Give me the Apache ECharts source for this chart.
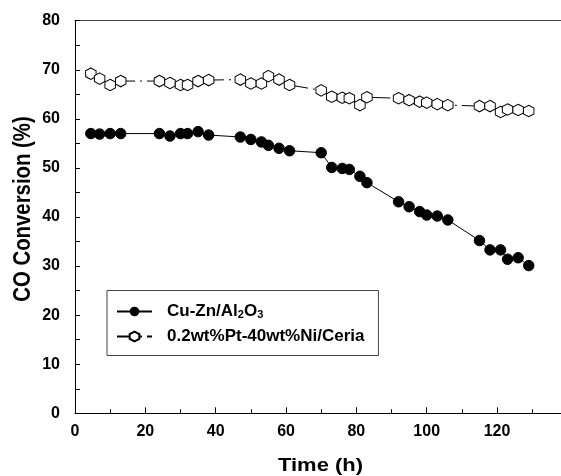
<!DOCTYPE html>
<html>
<head>
<meta charset="utf-8">
<script src="https://cdn.jsdelivr.net/npm/echarts@6/dist/echarts.min.js"></script>
<style>
html,body{margin:0;padding:0;background:#fff;overflow:hidden;}
#chart{width:561px;height:476px;}
</style>
</head>
<body>
<div id="chart"></div>
<script>
var timeH = [4.5, 7, 10, 13, 24, 27, 30, 32, 35, 38, 47, 50, 53, 55, 58, 61, 70, 73, 76, 78, 81, 83, 92, 95, 98, 100, 103, 106, 115, 118, 121, 123, 126, 129];
var cuZn = [57.0, 56.9, 57.0, 57.0, 57.0, 56.5, 57.0, 57.0, 57.4, 56.7, 56.3, 55.8, 55.3, 54.6, 54.0, 53.5, 53.1, 50.1, 49.9, 49.7, 48.3, 47.0, 43.1, 42.1, 41.1, 40.4, 40.2, 39.4, 35.2, 33.3, 33.3, 31.4, 31.7, 30.1];
var ptNi = [69.2, 68.2, 66.9, 67.7, 67.7, 67.3, 66.9, 66.9, 67.7, 67.9, 68.0, 67.2, 67.2, 68.7, 68.0, 66.9, 65.8, 64.5, 64.3, 64.2, 62.8, 64.4, 64.2, 63.8, 63.5, 63.3, 63.0, 62.8, 62.6, 62.6, 61.4, 61.9, 61.8, 61.6];
var seriesNames = ['Cu-Zn/Al2O3', '0.2wt%Pt-40wt%Ni/Ceria'];
var legendLabels = ['Cu-Zn/Al{sub|2}O{sub|3}', '0.2wt%Pt-40wt%Ni/Ceria'];
var xTitle = 'Time (h)';
var yTitle = 'CO Conversion (%)';

function pairs(xs, ys){ return xs.map(function(x,i){ return [x, ys[i]]; }); }

var hex = 'path://M0,-1 L0.866,-0.5 L0.866,0.5 L0,1 L-0.866,0.5 L-0.866,-0.5 Z';
var font = '"Liberation Sans", Arial, sans-serif';

var chart = echarts.init(document.getElementById('chart'), null, {renderer:'canvas'});
chart.setOption({
  animation: false,
  backgroundColor: '#fff',
  grid: {left: 75, top: 20.7, width: 492.4, height: 392.6, outerBoundsMode: 'none', containLabel: false, show: false},
  legend: {
    orient: 'vertical',
    left: 107, top: 290.5,
    padding: [12, 14, 10, 9],
    itemGap: 7,
    itemWidth: 35, itemHeight: 12,
    borderColor: '#444', borderWidth: 1,
    backgroundColor: '#fff',
    data: seriesNames,
    formatter: function(n){ return '{gap|}' + legendLabels[seriesNames.indexOf(n)]; },
    textStyle: {
      fontFamily: font, fontWeight: 'bold', fontSize: 17, color: '#000', lineHeight: 18,
      rich: {
        gap: {width: 10, lineHeight: 18},
        sub: {fontFamily: font, fontWeight: 'bold', fontSize: 11, lineHeight: 11, color: '#000', verticalAlign: 'bottom'}
      }
    }
  },
  graphic: [
    {type: 'text', x: 320.5, y: 466, scaleX: 1.22, z: 10,
     style: {text: xTitle, font: 'bold 18px ' + font, fill: '#000', textAlign: 'center', textVerticalAlign: 'middle'}},
    {type: 'text', x: 23.5, y: 209, rotation: Math.PI / 2, scaleX: 0.885, z: 10,
     style: {text: yTitle, font: 'bold 23px ' + font, fill: '#000', textAlign: 'center', textVerticalAlign: 'middle'}}
  ],
  xAxis: [{
    type: 'value', min: 0, max: 140, interval: 20,
    axisLine: {lineStyle: {color: '#000', width: 1}},
    axisTick: {inside: true, length: 6, lineStyle: {color: '#000'}},
    minorTick: {show: true, splitNumber: 2, length: 4, lineStyle: {color: '#000'}},
    splitLine: {show: false},
    axisLabel: {fontFamily: font, fontWeight: 'bold', fontSize: 16, color: '#000', margin: 10,
      formatter: function(v){ return v <= 120 ? String(v) : ''; }}
  }, {
    type: 'value', min: 0, max: 140, interval: 20, position: 'top',
    axisLine: {show: true, lineStyle: {color: '#444', width: 1}},
    axisTick: {show: false}, minorTick: {show: false},
    axisLabel: {show: false}, splitLine: {show: false}
  }],
  yAxis: {
    type: 'value', min: 0, max: 80, interval: 10,
    axisLine: {show: true, lineStyle: {color: '#000', width: 1}},
    axisTick: {show: true, inside: true, length: 5, lineStyle: {color: '#000'}},
    minorTick: {show: true, splitNumber: 2, length: 5, lineStyle: {color: '#000'}},
    splitLine: {show: false},
    axisLabel: {fontFamily: font, fontWeight: 'bold', fontSize: 16, color: '#000', margin: 15}
  },
  series: [
    {
      name: seriesNames[0], type: 'line', data: pairs(timeH, cuZn),
      symbol: 'circle', symbolSize: 10.5,
      itemStyle: {color: '#000', borderColor: '#000'},
      lineStyle: {color: '#000', width: 1},
      z: 3
    },
    {
      name: seriesNames[1], type: 'line', data: pairs(timeH, ptNi),
      symbol: hex, symbolSize: [10.5, 11.5],
      itemStyle: {color: '#fff', borderColor: '#000', borderWidth: 1},
      lineStyle: {color: '#000', width: 1, type: [18, 5, 2, 5]},
      z: 2
    }
  ]
});
</script>
</body>
</html>
